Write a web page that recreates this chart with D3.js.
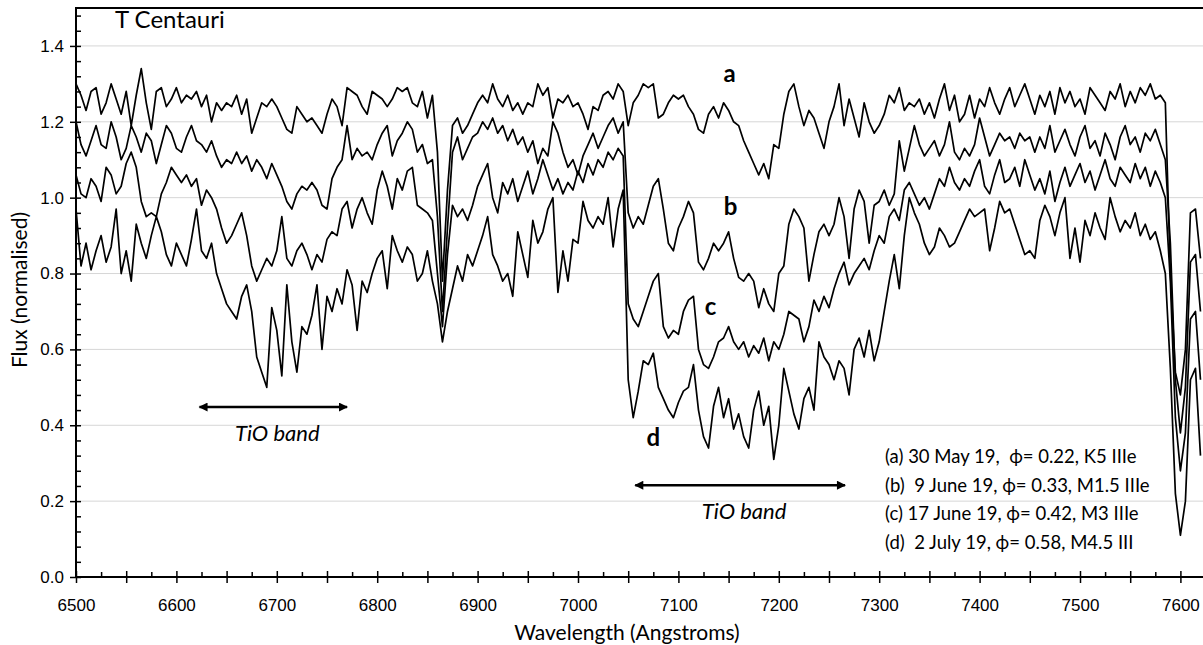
<!DOCTYPE html>
<html>
<head>
<meta charset="utf-8">
<script src="https://cdn.jsdelivr.net/npm/d3@7"></script>
<style>
  body { margin: 0; background: #fff; }
  svg { display: block; font-family: Lato, "Open Sans", sans-serif; }
</style>
</head>
<body>
<script>

  // wavelength grid, 6500..7620 Angstrom in 5 A steps
  var wavelengths = d3.range(6500, 7621, 5);

  // (a) 30 May 19
  var fluxA = [
    1.30, 1.27, 1.23, 1.28, 1.29, 1.22, 1.25, 1.30, 1.26, 1.22,
    1.28, 1.19, 1.27, 1.34, 1.25, 1.18, 1.28, 1.29, 1.24, 1.26,
    1.29, 1.25, 1.27, 1.26, 1.28, 1.24, 1.27, 1.20, 1.25, 1.23,
    1.25, 1.24, 1.27, 1.22, 1.26, 1.17, 1.21, 1.25, 1.24, 1.26,
    1.24, 1.21, 1.18, 1.17, 1.24, 1.22, 1.20, 1.21, 1.19, 1.17,
    1.22, 1.26, 1.24, 1.19, 1.29, 1.28, 1.27, 1.24, 1.22, 1.28,
    1.27, 1.26, 1.24, 1.26, 1.29, 1.28, 1.29, 1.25, 1.24, 1.28,
    1.21, 1.27, 1.12, 0.78, 1.02, 1.19, 1.21, 1.17, 1.19, 1.22,
    1.25, 1.27, 1.25, 1.30, 1.26, 1.24, 1.27, 1.23, 1.25, 1.22,
    1.25, 1.24, 1.30, 1.27, 1.29, 1.21, 1.26, 1.25, 1.27, 1.24,
    1.25, 1.22, 1.18, 1.24, 1.23, 1.27, 1.28, 1.26, 1.30, 1.28,
    1.19, 1.25, 1.27, 1.30, 1.29, 1.30, 1.21, 1.22, 1.25, 1.27,
    1.26, 1.27, 1.24, 1.22, 1.18, 1.17, 1.22, 1.24, 1.21, 1.25,
    1.23, 1.20, 1.19, 1.15, 1.12, 1.09, 1.06, 1.09, 1.05, 1.14,
    1.13, 1.22, 1.28, 1.30, 1.24, 1.19, 1.23, 1.21, 1.17, 1.13,
    1.20, 1.24, 1.30, 1.19, 1.26, 1.21, 1.16, 1.25, 1.20, 1.17,
    1.19, 1.22, 1.27, 1.25, 1.29, 1.23, 1.25, 1.24, 1.26, 1.22,
    1.25, 1.21, 1.26, 1.30, 1.23, 1.27, 1.20, 1.22, 1.27, 1.21,
    1.26, 1.24, 1.29, 1.25, 1.22, 1.26, 1.29, 1.24, 1.27, 1.30,
    1.26, 1.22, 1.27, 1.24, 1.28, 1.22, 1.29, 1.25, 1.28, 1.24,
    1.26, 1.22, 1.29, 1.27, 1.25, 1.23, 1.28, 1.26, 1.30, 1.24,
    1.28, 1.25, 1.29, 1.27, 1.30, 1.26, 1.27, 1.25, 0.80, 0.54,
    0.48, 0.60, 0.96, 0.97, 0.84
  ];

  // (b) 9 June 19
  var fluxB = [
    1.20, 1.14, 1.11, 1.15, 1.19, 1.14, 1.13, 1.20, 1.16, 1.10,
    1.13, 1.19, 1.16, 1.12, 1.17, 1.15, 1.09, 1.14, 1.19, 1.17,
    1.13, 1.12, 1.16, 1.19, 1.15, 1.14, 1.12, 1.15, 1.11, 1.08,
    1.10, 1.09, 1.12, 1.09, 1.11, 1.07, 1.10, 1.08, 1.05, 1.09,
    1.06, 1.03, 0.99, 0.97, 1.01, 1.03, 1.02, 1.04, 1.02, 0.98,
    0.97, 1.05, 1.08, 1.10, 1.19, 1.10, 1.13, 1.11, 1.12, 1.10,
    1.14, 1.17, 1.19, 1.11, 1.15, 1.17, 1.20, 1.18, 1.12, 1.14,
    1.09, 1.10, 0.95, 0.70, 0.92, 1.12, 1.16, 1.10, 1.13, 1.16,
    1.17, 1.20, 1.18, 1.21, 1.17, 1.19, 1.15, 1.18, 1.14, 1.16,
    1.12, 1.15, 1.09, 1.13, 1.11, 1.20, 1.17, 1.12, 1.08, 1.10,
    1.06, 1.11, 1.14, 1.17, 1.13, 1.16, 1.19, 1.21, 1.17, 1.20,
    0.96, 0.92, 0.95, 0.93, 0.98, 1.03, 1.05, 0.97, 0.88, 0.86,
    0.92, 0.95, 0.99, 0.96, 0.83, 0.81, 0.84, 0.88, 0.86, 0.88,
    0.91, 0.84, 0.79, 0.78, 0.80, 0.78, 0.71, 0.76, 0.72, 0.70,
    0.80, 0.82, 0.93, 0.97, 0.95, 0.92, 0.78, 0.85, 0.91, 0.93,
    0.90, 0.93, 1.00, 0.95, 0.84, 0.97, 1.02, 0.99, 0.88, 0.98,
    0.99, 1.02, 0.98, 1.01, 1.15, 1.07, 1.13, 1.19, 1.14, 1.11,
    1.13, 1.15, 1.11, 1.14, 1.20, 1.12, 1.10, 1.13, 1.11, 1.14,
    1.21, 1.16, 1.11, 1.14, 1.17, 1.15, 1.16, 1.13, 1.17, 1.15,
    1.16, 1.12, 1.16, 1.13, 1.19, 1.12, 1.15, 1.18, 1.14, 1.11,
    1.16, 1.19, 1.13, 1.15, 1.11, 1.17, 1.14, 1.10, 1.16, 1.19,
    1.14, 1.16, 1.12, 1.17, 1.15, 1.18, 1.14, 1.10, 0.88, 0.52,
    0.38, 0.50, 0.83, 0.85, 0.70
  ];

  // (c) 17 June 19
  var fluxC = [
    1.06, 1.01, 1.00, 1.05, 1.03, 0.99, 1.08, 1.06, 1.01, 1.03,
    1.09, 1.12, 1.08, 0.99, 0.95, 0.96, 0.95, 1.01, 1.04, 1.08,
    1.06, 1.04, 1.06, 1.03, 1.05, 0.98, 1.02, 1.00, 0.97, 0.92,
    0.88, 0.90, 0.93, 0.96, 0.90, 0.82, 0.78, 0.81, 0.84, 0.82,
    0.86, 0.95, 0.84, 0.82, 0.86, 0.88, 0.85, 0.81, 0.85, 0.83,
    0.89, 0.91, 0.90, 0.97, 0.99, 0.92, 0.97, 1.00, 0.96, 0.93,
    1.02, 1.07, 1.03, 0.97, 1.05, 1.02, 1.07, 1.08, 0.98, 0.97,
    0.96, 0.94, 0.80, 0.66, 0.85, 0.98, 0.95, 0.97, 0.94, 0.98,
    1.03, 1.06, 1.09, 1.00, 0.96, 1.04, 1.01, 1.05, 0.99, 1.03,
    1.07, 1.01, 1.05, 1.10, 1.06, 1.02, 1.05, 1.01, 1.04, 1.02,
    1.07, 1.04, 1.09, 1.06, 1.10, 1.08, 1.12, 1.10, 1.13, 1.11,
    0.72, 0.68, 0.66, 0.70, 0.74, 0.78, 0.80, 0.66, 0.63, 0.65,
    0.64, 0.70, 0.73, 0.74, 0.60, 0.56, 0.55, 0.58, 0.62, 0.63,
    0.66, 0.62, 0.60, 0.62, 0.58, 0.61, 0.59, 0.63, 0.57, 0.62,
    0.60, 0.64, 0.70, 0.69, 0.68, 0.62, 0.66, 0.73, 0.70, 0.74,
    0.71, 0.76, 0.80, 0.83, 0.77, 0.80, 0.82, 0.84, 0.81, 0.86,
    0.90, 0.88, 0.95, 0.97, 0.94, 1.02, 1.04, 1.01, 0.98, 1.00,
    0.97, 1.01, 1.05, 1.03, 1.08, 1.04, 1.02, 1.05, 1.03, 1.07,
    1.10, 1.03, 1.01, 1.06, 1.10, 1.04, 1.05, 1.08, 1.03, 1.10,
    1.06, 1.02, 1.05, 1.01, 1.07, 0.99, 1.04, 1.08, 1.03, 1.06,
    1.09, 1.04, 1.07, 1.02, 1.06, 1.10, 1.05, 1.03, 1.08, 1.06,
    1.04, 1.09, 1.05, 1.08, 1.03, 1.07, 1.04, 1.00, 0.78, 0.42,
    0.28, 0.38, 0.68, 0.70, 0.52
  ];

  // (d) 2 July 19
  var fluxD = [
    0.97, 0.82, 0.88, 0.81, 0.86, 0.90, 0.83, 0.87, 0.97, 0.80,
    0.86, 0.78, 0.93, 0.88, 0.84, 0.90, 0.95, 0.91, 0.85, 0.82,
    0.88, 0.85, 0.82, 0.89, 0.97, 0.86, 0.84, 0.88, 0.80, 0.76,
    0.72, 0.70, 0.68, 0.74, 0.77, 0.70, 0.58, 0.54, 0.50, 0.71,
    0.65, 0.53, 0.77, 0.62, 0.54, 0.66, 0.64, 0.69, 0.77, 0.60,
    0.74, 0.70, 0.76, 0.72, 0.81, 0.77, 0.65, 0.78, 0.75, 0.80,
    0.84, 0.86, 0.76, 0.90, 0.86, 0.83, 0.87, 0.85, 0.78, 0.80,
    0.86, 0.78, 0.72, 0.62, 0.70, 0.76, 0.82, 0.78, 0.85, 0.82,
    0.86, 0.90, 0.95, 0.85, 0.82, 0.78, 0.80, 0.74, 0.91, 0.85,
    0.79, 0.94, 0.88, 0.91, 0.97, 1.00, 0.75, 0.86, 0.78, 0.89,
    0.88, 0.99, 0.94, 0.92, 0.95, 0.93, 1.00, 0.87, 0.97, 1.02,
    0.52, 0.42, 0.49, 0.57, 0.56, 0.59, 0.50, 0.47, 0.44, 0.42,
    0.46, 0.49, 0.50, 0.56, 0.44, 0.37, 0.34, 0.45, 0.50, 0.42,
    0.47, 0.39, 0.43, 0.37, 0.34, 0.44, 0.49, 0.40, 0.45, 0.31,
    0.40, 0.55, 0.49, 0.43, 0.39, 0.47, 0.50, 0.44, 0.62, 0.58,
    0.56, 0.52, 0.57, 0.55, 0.48, 0.60, 0.63, 0.58, 0.65, 0.57,
    0.62, 0.70, 0.78, 0.85, 0.76, 0.90, 1.00, 0.96, 0.93, 0.88,
    0.85, 0.87, 0.92, 0.90, 0.87, 0.88, 0.91, 0.94, 0.97, 0.95,
    0.96, 0.97, 0.86, 0.92, 0.99, 0.96, 0.97, 0.93, 0.89, 0.85,
    0.86, 0.84, 0.94, 0.98, 0.95, 0.90, 0.96, 1.00, 0.84, 0.92,
    0.83, 0.94, 0.90, 0.96, 0.92, 0.89, 1.00, 0.95, 0.91, 0.94,
    0.92, 0.96, 0.90, 0.93, 0.89, 0.91, 0.86, 0.80, 0.55, 0.22,
    0.11, 0.20, 0.52, 0.55, 0.32
  ];

  var spectra = [fluxA, fluxB, fluxC, fluxD];

  var curveLabels = [
    { text: "a", wl: 7151, flux: 1.305 },
    { text: "b", wl: 7152, flux: 0.954 },
    { text: "c", wl: 7132, flux: 0.69 },
    { text: "d", wl: 7075, flux: 0.345 }
  ];

  var legendLines = [
    "(a) 30 May 19,  \u03d5= 0.22, K5 IIIe",
    "(b)  9 June 19, \u03d5= 0.33, M1.5 IIIe",
    "(c) 17 June 19, \u03d5= 0.42, M3 IIIe",
    "(d)  2 July 19, \u03d5= 0.58, M4.5 III"
  ];

  // TiO band arrows: wavelength span, flux level
  var bands = [
    { from: 6623, to: 6770, flux: 0.448 },
    { from: 7057, to: 7266, flux: 0.242 }
  ];

  var yTicks = [0, 0.2, 0.4, 0.6, 0.8, 1.0, 1.2, 1.4];
  var yMinor = d3.range(0, 1.5001, 0.04);
  var xMajor = d3.range(6500, 7626, 50);
  var xMinor = d3.range(6525, 7626, 50);

  var width = 1203, height = 645;
  var plotLeft = 76, plotTop = 8, plotBottom = 577;

  var svg = d3.select("body").append("svg")
      .attr("width", width)
      .attr("height", height);

  var x = d3.scaleLinear().domain([6500, 7625]).range([plotLeft, 1205.5]);
  var y = d3.scaleLinear().domain([0, 1.5]).range([plotBottom, plotTop]);

  // grid
  svg.append("g").selectAll("line")
    .data(yTicks.filter(function(d) { return d > 0; }))
    .enter().append("line")
      .attr("x1", plotLeft).attr("x2", width)
      .attr("y1", function(d) { return y(d); })
      .attr("y2", function(d) { return y(d); })
      .attr("stroke", "#d6d6d6").attr("stroke-width", 1);

  // y axis
  var yAxis = svg.append("g")
      .attr("transform", "translate(" + plotLeft + ",0)")
      .call(d3.axisLeft(y).tickValues(yTicks).tickSize(6).tickPadding(6)
        .tickFormat(d3.format(".1f")));
  yAxis.select(".domain").remove();
  yAxis.selectAll("text").attr("font-size", 17).attr("fill", "#000");
  yAxis.selectAll("line").attr("stroke-width", 1.5);

  svg.append("g")
      .attr("transform", "translate(" + plotLeft + ",0)")
      .call(d3.axisLeft(y).tickValues(yMinor).tickSize(-5).tickFormat(""))
      .call(function(g) { g.select(".domain").remove(); })
      .selectAll("line").attr("stroke-width", 1.5);

  // x axis
  var xAxis = svg.append("g")
      .attr("transform", "translate(0," + plotBottom + ")")
      .call(d3.axisBottom(x).tickValues(xMajor).tickSize(6).tickPadding(16)
        .tickFormat(function(d) { return d % 100 === 0 ? d : ""; }));
  xAxis.select(".domain").remove();
  xAxis.selectAll("line").attr("y1", -6).attr("stroke-width", 1.5);
  xAxis.selectAll("text").attr("font-size", 17).attr("fill", "#000");

  svg.append("g")
      .attr("transform", "translate(0," + plotBottom + ")")
      .call(d3.axisBottom(x).tickValues(xMinor).tickSize(-5).tickFormat(""))
      .call(function(g) { g.select(".domain").remove(); })
      .selectAll("line").attr("stroke-width", 1.5);

  // frame lines
  svg.append("path")
      .attr("d", "M" + width + "," + plotTop + "H" + plotLeft + "V" + plotBottom + "H" + width)
      .attr("fill", "none").attr("stroke", "#000").attr("stroke-width", 2);

  // spectra
  var line = d3.line()
      .x(function(d, i) { return x(wavelengths[i]); })
      .y(function(d) { return y(d); });

  svg.append("g").selectAll("path")
    .data(spectra)
    .enter().append("path")
      .attr("d", line)
      .attr("fill", "none")
      .attr("stroke", "#000")
      .attr("stroke-width", 1.7)
      .attr("stroke-linejoin", "round");

  // curve letters
  svg.append("g").selectAll("text")
    .data(curveLabels)
    .enter().append("text")
      .attr("x", function(d) { return x(d.wl); })
      .attr("y", function(d) { return y(d.flux); })
      .attr("text-anchor", "middle")
      .attr("font-size", 24)
      .attr("font-weight", 700)
      .text(function(d) { return d.text; });

  // arrows
  svg.append("defs").append("marker")
      .attr("id", "head")
      .attr("viewBox", "0 0 10 10")
      .attr("refX", 9).attr("refY", 5)
      .attr("markerUnits", "userSpaceOnUse")
      .attr("markerWidth", 11).attr("markerHeight", 9)
      .attr("orient", "auto-start-reverse")
    .append("path")
      .attr("d", "M0,0L10,5L0,10z");

  var band = svg.append("g").selectAll("g")
    .data(bands)
    .enter().append("g");

  band.append("line")
      .attr("x1", function(d) { return x(d.from); })
      .attr("x2", function(d) { return x(d.to); })
      .attr("y1", function(d) { return y(d.flux); })
      .attr("y2", function(d) { return y(d.flux); })
      .attr("stroke", "#000").attr("stroke-width", 2.5)
      .attr("marker-start", "url(#head)")
      .attr("marker-end", "url(#head)");

  band.append("text")
      .attr("x", function(d) { return x((d.from + d.to) / 2) + 4; })
      .attr("y", function(d) { return y(d.flux) + 34; })
      .attr("text-anchor", "middle")
      .attr("font-size", 22)
      .attr("font-style", "italic")
      .text("TiO band");

  // title and legend
  svg.append("text")
      .attr("x", 115).attr("y", 28)
      .attr("font-size", 24)
      .text("T Centauri");

  svg.append("g").selectAll("text")
    .data(legendLines)
    .enter().append("text")
      .attr("x", 885)
      .attr("y", function(d, i) { return 463 + i * 28.5; })
      .attr("font-size", 18.5)
      .style("white-space", "pre")
      .text(function(d) { return d; });

  // axis titles
  svg.append("text")
      .attr("x", 627).attr("y", 640)
      .attr("text-anchor", "middle")
      .attr("font-size", 21)
      .text("Wavelength (Angstroms)");

  svg.append("text")
      .attr("transform", "translate(27,290) rotate(-90)")
      .attr("text-anchor", "middle")
      .attr("font-size", 21)
      .text("Flux (normalised)");

</script>
</body>
</html>
